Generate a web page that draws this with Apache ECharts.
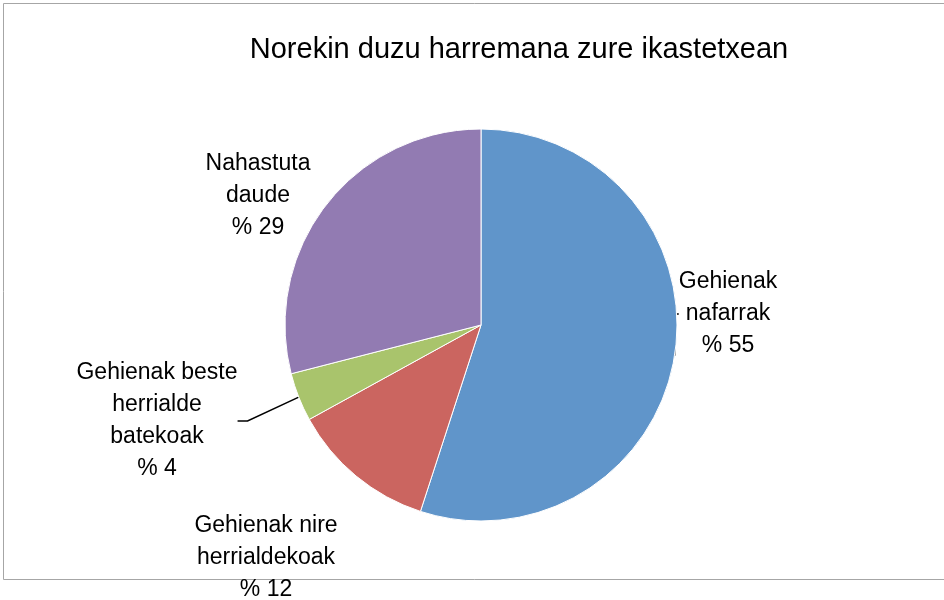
<!DOCTYPE html>
<html>
<head>
<meta charset="utf-8">
<script src="https://cdn.jsdelivr.net/npm/echarts@6/dist/echarts.min.js"></script>
<style>
  html, body { margin: 0; padding: 0; background: #fff; }
  #chart { width: 944px; height: 600px; }
</style>
</head>
<body>
<div id="chart"></div>
<script>
"use strict";

// datuak
var names = [
    'Gehienak\nnafarrak',
    'Gehienak nire\nherrialdekoak',
    'Gehienak beste\nherrialde\nbatekoak',
    'Nahastuta\ndaude'
];
var values = [55, 12, 4, 29];
var colors = ['#6095CA', '#CB6560', '#A9C46C', '#927BB2'];

// etiketen kokapena (erdigunea)
var labelPos = [[728, 314], [266, 558], [157, 421], [258, 196]];
var withLine = [true, false, true, false];

var myChart = echarts.init(document.getElementById('chart'));

var pieData = values.map(function (v, i) {
    return {
        name: names[i],
        value: v,
        itemStyle: { color: colors[i] },
        labelLine: { show: withLine[i] }
    };
});

var option = {
    animation: false,
    title: {
        text: 'Norekin duzu harremana zure ikastetxean',
        left: 514,
        top: 30,
        textAlign: 'center',
        textStyle: {
            fontFamily: 'Liberation Sans',
            fontSize: 29,
            fontWeight: 'normal',
            color: '#000'
        }
    },
    graphic: [{
        type: 'rect',
        shape: { x: 3.5, y: 3.5, width: 960, height: 576 },
        style: { fill: 'none', stroke: '#a6a6a6', lineWidth: 1 },
        silent: true
    }],
    series: [{
        type: 'pie',
        center: [481, 325],
        radius: [0, 196],
        startAngle: 90,
        clockwise: true,
        itemStyle: { borderColor: '#fff', borderWidth: 1 },
        label: {
            show: true,
            formatter: function (p) { return p.name + '\n% ' + p.value; },
            fontFamily: 'Liberation Sans',
            fontSize: 23,
            lineHeight: 32,
            color: '#000',
            align: 'center'
        },
        labelLine: {
            show: true,
            length: 10,
            length2: 10,
            lineStyle: { color: '#000', width: 1.5 }
        },
        labelLayout: function (p) {
            var pos = labelPos[p.dataIndex];
            return {
                x: pos[0],
                y: pos[1],
                align: 'center',
                verticalAlign: 'middle'
            };
        },
        data: pieData
    }]
};

myChart.setOption(option);
</script>
</body>
</html>
